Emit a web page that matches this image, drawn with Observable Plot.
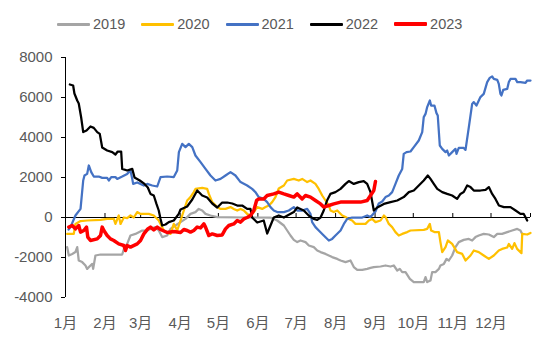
<!DOCTYPE html>
<html>
<head>
<meta charset="utf-8">
<script src="https://cdn.jsdelivr.net/npm/d3@7"></script>
<script src="https://cdn.jsdelivr.net/npm/@observablehq/plot@0.6"></script>
<style>
  html, body { margin: 0; padding: 0; background: #fff; }
  body { width: 550px; height: 349px; overflow: hidden; font-family: "Liberation Sans", Arial, "Noto Sans CJK SC", sans-serif; }
  #legend { height: 40px; padding-top: 4px; display: flex; align-items: center; padding-left: 57px; color: #595959; font-size: 14.5px; }
  .item { display: flex; align-items: center; margin-right: 16px; }
  .swatch { width: 33px; margin-right: 3px; }
</style>
</head>
<body>
<div id="legend"></div>
<div id="chart"></div>
<script>
// ---- data (day of year, value) ----
const seriesNames = ["2019", "2020", "2021", "2022", "2023"];
const seriesColors = ["#A5A5A5", "#FFC000", "#4472C4", "#000000", "#FF0000"];
const monthLabels = ["1月","2月","3月","4月","5月","6月","7月","8月","9月","10月","11月","12月"];
const yTicks = [-4000, -2000, 0, 2000, 4000, 6000, 8000];

const d2019 = [1.3,2.6,5.3,7.8,9.2,10.4,13.1,15.7,17,19.6,21,21.7,23.5,27.5,43.2,44.5,46.3,48.4,51,54.9,60.2,64.1,66.7,70.6,73.2,75.9,79.8,82.4,86.3,90.3,94.2,98.1,102,104.6,107.3,109.9,113.8,119.1,140,160.9,166.2,171.4,174,176.6,179.2,181.9,184.5,188.4,191,194.9,197.6,200.2,204.1,209.3,213.3,215.9,219.8,223.7,226.3,229,232.9,236.8,239.4,242,247.3,251.2,255.1,257.7,260.4,262.4,264.3,266.9,270.3,273.4,281.2,282.6,283.9,286.5,287.8,290.4,293.1,294.3,297,299.1,300.9,303.5,306.1,308.7,312.6,316.6,319.2,321.8,324.4,328.3,332.3,336.2,338.9,342.7,346.7,350.6,354.6,357.1,358.5];
const v2019 = [-1480,-1900,-1820,-1730,-1480,-2150,-2230,-2400,-2570,-2400,-2320,-2570,-1900,-1850,-1850,-1850,-1480,-1320,-900,-820,-650,-650,-570,-480,-650,-980,-900,-570,-400,-230,-70,180,270,430,350,180,100,20,0,0,-150,-400,-650,-900,-1120,-1230,-1150,-1230,-1400,-1480,-1650,-1730,-1820,-1980,-2070,-2150,-2230,-2150,-2480,-2620,-2620,-2570,-2520,-2480,-2450,-2400,-2450,-2400,-2650,-2570,-2730,-2730,-3070,-3230,-3230,-2980,-3230,-3150,-2730,-2730,-2570,-2400,-2320,-2070,-2150,-1900,-1480,-1230,-1120,-1070,-1150,-980,-900,-820,-850,-980,-820,-820,-730,-650,-570,-650,-820];

const d2020 = [1.3,6.5,7.8,11.8,17,27.5,32.7,37.9,39.2,41.8,43.2,45.8,48.4,51,53.6,56.3,58.9,65.4,69.3,73.2,77.2,82.4,85,87.7,90.3,92.9,95.5,98.1,100.7,102,107.3,111.2,112.5,115.2,119.1,121.7,125.6,129.5,132.1,134.8,137.4,140,142.6,145.2,147.8,150.5,154.4,157,159.6,162.2,164.8,167.4,171.4,174,179.2,183.1,185.8,189.7,192.3,196.2,198.8,201.5,204.1,206.7,208,210.6,213.3,217.2,219.8,222.4,225,227.6,235.5,238.1,240.7,243.3,247.3,249.9,251.2,253.8,256.4,259,261.6,264.3,268.2,270.8,281.2,283.9,286,287,289.6,293.1,294.3,295.7,298.3,300.1,303.5,307.4,311.4,314,317.9,320.5,324.4,328.3,332.3,336.2,340.1,342.7,346.7,348,350.6,352.4,354.5,357.9,358.5,362.4,365];
const v2020 = [-820,-820,-320,-180,-150,-120,-70,-70,-320,100,-320,0,-30,100,0,270,180,180,100,-150,-650,-820,-320,-650,-150,350,850,1020,1270,1430,1480,1430,1180,770,520,430,430,520,430,350,430,350,180,100,270,520,430,520,600,770,1020,1450,1600,1850,1930,1850,1930,1770,1850,1680,1430,1100,850,600,350,270,350,100,20,-70,-150,-320,-320,-150,-70,-230,-150,100,20,-320,-480,-730,-900,-820,-730,-650,-620,-570,-320,-650,-730,-730,-1230,-1730,-1480,-1150,-1320,-1730,-1820,-2150,-1900,-1650,-1730,-1900,-2070,-1900,-1650,-1570,-1500,-1320,-1570,-1280,-1570,-1780,-820,-850,-770];

const d2021 = [2.4,3.9,7.8,11.8,13.9,14.9,17,18.3,20.2,22.2,26.1,28.8,32.7,34,35.9,39.2,40.6,44.5,48.4,51,52.4,53.1,56.3,58.9,61.5,64.1,68.1,72,74.6,79.8,85,87.7,89,91.6,94.2,96.8,99.5,102,106,109.9,113.8,117.7,121.7,125.6,129.5,133.4,137.4,142.6,146.5,149.1,151.7,155.6,158.3,160.9,163.5,166.2,171.4,175.3,179.2,181.9,185.8,189.7,192.3,193.6,196.2,198.8,202.7,206.7,209.3,211.9,215.9,218.5,221.1,225,229,232.9,236.8,239.4,243.3,245.9,248.6,251.2,253.8,256.4,259,261.6,264.3,265.5,267.7,270.8,273.4,277.3,280,281.2,282.6,283.9,286,287,289.6,291.2,292.2,293.8,295.7,298.3,299.6,300.9,303.5,306.1,306.9,308.7,312.6,314,316.6,319.2,320.5,322.6,325.7,328.3,331,333,334.9,336.2,338.9,340.1,341.4,342.2,343.6,346.7,348,349.3,353.2,354.6,357.1,361.1,362.4,365];
const v2021 = [-600,-480,100,430,1850,2100,2180,2600,2270,2050,2050,1980,1980,1850,2020,2020,1930,2050,2180,2350,1930,1680,1750,1680,1600,1680,1600,1550,2020,2050,2020,2350,3270,3680,3520,3680,3520,3100,2770,2430,2100,1850,1930,2100,2270,2100,1770,1600,1430,1270,1020,930,770,520,350,270,270,350,520,350,350,430,180,-230,-480,-650,-900,-1150,-1070,-900,-650,-320,-70,0,0,0,100,20,300,700,800,1020,1100,1270,1680,2100,2430,3180,3270,3300,3520,3850,4270,5020,5180,5520,5850,5600,5600,5220,5100,3600,3430,3270,3350,3100,3270,3430,3180,3480,3480,3380,4520,5680,5770,5600,6020,6180,6770,6980,7050,6930,6880,6680,6180,6100,6380,6430,6770,6930,6930,6770,6770,6730,6850,6850];

const d2022 = [3.4,6,7,9.2,10.4,12.3,13.9,16.5,19.6,22.2,24.9,26.9,28.8,32.7,36.7,39.2,41,43.7,44.5,48.4,52.4,54.2,58.3,62,64.6,66.7,69.3,71.4,73.2,74.6,75.9,78.5,81.1,85,88.9,90.3,95.5,99.5,103.4,107.3,111.2,115.2,119.1,123,126.9,130.9,134.8,138.7,142.6,145.2,146.5,150.5,155.6,158.3,160.9,163.5,167.4,171.4,179.2,181.9,187,190.9,194.8,197.6,200.2,202.7,205.3,207.9,211.9,215.9,219.8,222.4,226.3,230.2,234.1,236.8,239.4,242,244.7,249.9,255.1,260.4,265.5,269.5,273.4,277.3,281.2,284.4,286.5,289.1,291.8,295.7,299.6,303.5,307.4,310,312.6,315.3,317.9,320.5,325.7,329.7,332.3,334.9,337.5,340.2,344.1,349.3,353.3,357.1,359.7,362.4];
const v2022 = [6650,6600,6200,5850,5700,5000,4270,4350,4550,4480,4270,4180,3500,3350,3270,3150,3300,3300,2430,2350,2430,2000,1850,1680,1500,1180,1100,680,350,-70,-400,-350,-230,-150,180,400,550,900,1350,1100,1000,700,500,750,750,700,600,600,430,430,0,-250,-150,-800,-400,0,100,0,270,500,350,100,-70,-120,0,350,850,1180,1270,1430,1680,1820,1680,1770,1820,1680,1270,350,500,680,770,850,1020,1270,1350,1600,1850,2100,1930,1680,1430,1270,1180,1100,930,1180,1270,1600,1520,1350,1350,1380,1520,1180,930,600,520,520,350,180,180,-150];

const d2023 = [2.6,5.3,7.8,10.4,11.8,14.4,16.5,17.5,19.6,24.9,27.5,28.8,30.1,32.7,35.3,37.9,41.8,45.8,47.1,48.4,51,56.3,58.9,61.5,64.6,66.7,69.3,72,74.6,79.8,85,90.3,92.9,95.5,98.1,100.7,103.4,106,108.6,109.9,112.5,115.2,119.1,123,125.6,128.2,132.1,134.8,137.4,140,142.6,145.2,147.8,150,151.7,155.6,158.3,163.5,167.4,171.4,175.3,179.2,181.9,185.8,188.4,192.3,196.2,200.2,202.7,206.7,210.6,215.9,231.6,236.8,239.4,242,243.3];
const v2023 = [-480,-400,-570,-400,-730,-650,-480,-980,-1150,-1070,-900,-480,-650,-900,-1070,-1150,-1320,-1400,-1650,-1400,-1480,-1320,-1150,-820,-570,-480,-620,-480,-600,-750,-700,-750,-600,-650,-730,-650,-480,-520,-320,-480,-900,-820,-900,-870,-570,-400,-320,-150,-230,-70,0,100,350,850,930,930,1100,1180,1270,1180,1100,1020,1180,930,1100,1020,850,680,520,600,680,770,770,850,1100,1350,1800];

const dayList = [d2019, d2020, d2021, d2022, d2023];
const valList = [v2019, v2020, v2021, v2022, v2023];

// ---- build ----
const t0 = Date.UTC(2021, 0, 1);
const toDate = d => new Date(t0 + d * 86400000);
const start = new Date(t0), end = new Date(Date.UTC(2022, 0, 1));
const monthStarts = d3.utcMonths(start, end);
const boundaryTicks = d3.utcMonths(new Date(Date.UTC(2021,1,1)), new Date(Date.UTC(2022,0,2)));

const rows = [];
seriesNames.forEach((name, i) => {
  dayList[i].forEach((d, j) => rows.push({series: name, date: toDate(d), value: valList[i][j]}));
});

// legend
const legend = document.getElementById("legend");
seriesNames.forEach((name, i) => {
  const it = document.createElement("div");
  it.className = "item";
  const sw = document.createElement("div");
  sw.className = "swatch";
  sw.style.height = (name === "2023" ? 4 : 3) + "px";
  sw.style.background = seriesColors[i];
  sw.style.borderRadius = "1px";
  const tx = document.createElement("span");
  tx.textContent = name;
  it.appendChild(sw); it.appendChild(tx);
  legend.appendChild(it);
});

const font = '"Liberation Sans", Arial, "Noto Sans CJK SC", sans-serif';
const chart = Plot.plot({
  width: 550,
  height: 305,
  marginLeft: 65,
  marginRight: 20,
  marginTop: 13,
  marginBottom: 52,
  style: {fontFamily: font, fontSize: "15px", color: "#595959", background: "#fff"},
  x: {type: "utc", domain: [start, end]},
  y: {domain: [-4000, 8000]},
  color: {domain: seriesNames, range: seriesColors},
  marks: [
    Plot.ruleY([0], {stroke: "#000", strokeWidth: 1}),
    Plot.ruleX(boundaryTicks, {x: d => d, y1: 0, y2: 200, stroke: "#000", strokeWidth: 1}),
    Plot.ruleX([start], {stroke: "#000", strokeWidth: 1}),
    Plot.axisY({ticks: yTicks, tickSize: 4, tickPadding: 9, fontSize: 15, fill: "#595959", stroke: "#000", label: null, tickFormat: d => String(d)}),
    Plot.axisX({ticks: monthStarts, tickSize: 0, tickPadding: 20, fontSize: 15, fill: "#595959", label: null, tickFormat: d => monthLabels[d.getUTCMonth()]}),
    ...seriesNames.map((name, i) => Plot.line(rows.filter(r => r.series === name), {
      x: "date", y: "value", stroke: seriesColors[i],
      strokeWidth: name === "2023" ? 3.5 : 2.25, strokeLinejoin: "round", curve: "linear"
    }))
  ]
});
document.getElementById("chart").appendChild(chart);
</script>
</body>
</html>
